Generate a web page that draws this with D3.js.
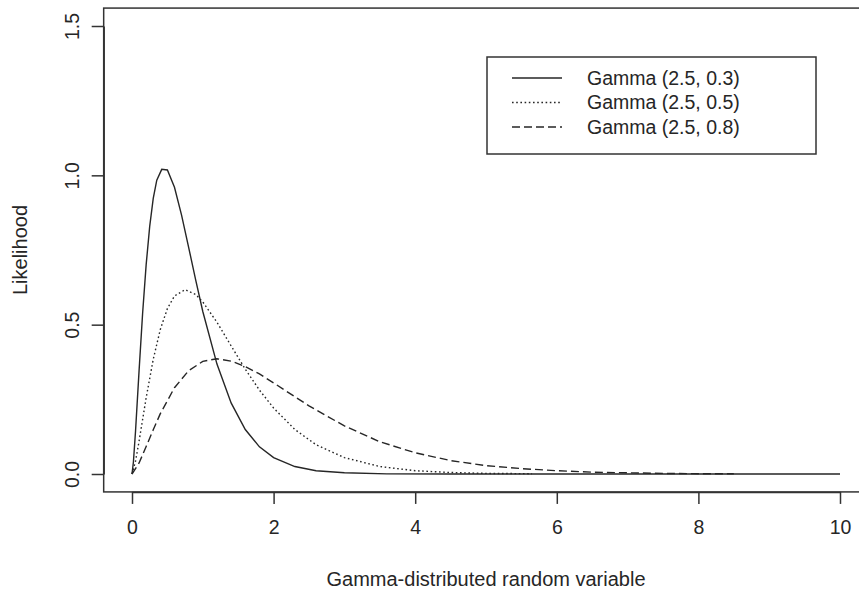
<!DOCTYPE html>
<html>
<head>
<meta charset="utf-8">
<script src="https://cdn.jsdelivr.net/npm/d3@7"></script>
<style>
  body { margin: 0; background: #fff; }
  text { font-family: "Liberation Sans", Arial, sans-serif; fill: #262626; }
</style>
</head>
<body>
<script>
// values
const xTicks = [0, 2, 4, 6, 8, 10];
const yTicks = [0, 0.5, 1, 1.5];
const seriesNames = ["Gamma (2.5, 0.3)", "Gamma (2.5, 0.5)", "Gamma (2.5, 0.8)"];

const xShape03 = [0, 0.02, 0.05, 0.1, 0.15, 0.2, 0.25, 0.3, 0.35, 0.42, 0.5, 0.6, 0.7, 0.8, 0.9, 1.0, 1.2, 1.4, 1.6, 1.8, 2.0, 2.3, 2.6, 3.0, 3.6, 4.5, 6, 8, 10];
const yShape03 = [0, 0.04, 0.144, 0.346, 0.538, 0.701, 0.829, 0.923, 0.984, 1.02, 1.018, 0.96, 0.867, 0.759, 0.649, 0.544, 0.368, 0.238, 0.149, 0.091, 0.055, 0.025, 0.011, 0.004, 0.0004, 0, 0, 0, 0];

const xShape05 = [0, 0.05, 0.1, 0.2, 0.3, 0.4, 0.5, 0.6, 0.75, 0.9, 1.0, 1.2, 1.4, 1.6, 1.8, 2.0, 2.3, 2.6, 3.0, 3.5, 4.0, 4.5, 5.0, 5.65];
const yShape05 = [0, 0.043, 0.11, 0.255, 0.384, 0.484, 0.554, 0.596, 0.617, 0.601, 0.576, 0.508, 0.429, 0.351, 0.281, 0.221, 0.149, 0.098, 0.055, 0.025, 0.011, 0.005, 0.002, 0.001];

const xShape08 = [0, 0.1, 0.2, 0.3, 0.4, 0.6, 0.8, 1.0, 1.2, 1.4, 1.6, 1.8, 2.0, 2.5, 3.0, 3.5, 4.0, 4.5, 5.0, 5.5, 6.0, 6.5, 7.0, 7.5, 8.0, 8.5];
const yShape08 = [0, 0.037, 0.092, 0.148, 0.202, 0.289, 0.346, 0.377, 0.386, 0.378, 0.36, 0.335, 0.305, 0.228, 0.161, 0.108, 0.071, 0.045, 0.028, 0.018, 0.011, 0.006, 0.004, 0.002, 0.001, 0.001];

const w = 859;
const h = 593;
const dashes = ["none", "1.6,2.6", "8,4"];

const series = [
  xShape03.map((x, i) => [x, yShape03[i]]),
  xShape05.map((x, i) => [x, yShape05[i]]),
  xShape08.map((x, i) => [x, yShape08[i]])
];

const xScale = d3.scaleLinear().domain([0, 10]).range([132, 840]);
const yScale = d3.scaleLinear().domain([0, 1.5]).range([474, 26]);

const svg = d3.select("body")
  .append("svg")
    .attr("width", w)
    .attr("height", h);

// plot box, R style: 4% beyond the data range
const x0 = xScale(-0.4), x1 = xScale(10.4);
const y0 = yScale(-0.06), y1 = yScale(1.56);
svg.append("rect")
  .attr("x", x0)
  .attr("y", y1)
  .attr("width", x1 - x0)
  .attr("height", y0 - y1)
  .style("fill", "none")
  .style("stroke", "#333")
  .style("stroke-width", 1.5);

const xAxis = d3.axisBottom(xScale).tickValues(xTicks).tickSize(12).tickSizeOuter(0).tickFormat(d3.format("d"));
const yAxis = d3.axisLeft(yScale).tickValues(yTicks).tickSize(12).tickSizeOuter(0).tickFormat(d3.format(".1f"));

const gx = svg.append("g")
  .attr("transform", "translate(0," + y0 + ")")
  .call(xAxis);
gx.selectAll("text")
  .attr("y", 35)
  .attr("dy", "0.35em")
  .style("font-size", "19.5px");

const gy = svg.append("g")
  .attr("transform", "translate(" + x0 + ",0)")
  .call(yAxis);
gy.selectAll("text")
  .attr("x", 0)
  .attr("y", -32)
  .attr("dy", "0.35em")
  .attr("transform", "rotate(-90)")
  .style("text-anchor", "middle")
  .style("font-size", "19.5px");

svg.selectAll(".domain, .tick line")
  .style("stroke", "#333")
  .style("stroke-width", 1.5);

svg.append("text")
  .attr("x", (x0 + x1) / 2)
  .attr("y", 579)
  .attr("dy", "0.35em")
  .style("text-anchor", "middle")
  .style("font-size", "20px")
  .text("Gamma-distributed random variable");

svg.append("text")
  .attr("transform", "rotate(-90)")
  .attr("x", -(y0 + y1) / 2)
  .attr("y", 20)
  .attr("dy", "0.35em")
  .style("text-anchor", "middle")
  .style("font-size", "20px")
  .text("Likelihood");

const line = d3.line()
  .x(d => xScale(d[0]))
  .y(d => yScale(d[1]));

svg.selectAll(".curve")
  .data(series)
  .enter()
  .append("path")
    .attr("class", "curve")
    .attr("d", line)
    .style("fill", "none")
    .style("stroke", "#262626")
    .style("stroke-width", 1.4)
    .style("stroke-dasharray", (d, i) => dashes[i]);

// legend
const legend = svg.append("g");
legend.append("rect")
  .attr("x", 487)
  .attr("y", 57)
  .attr("width", 329)
  .attr("height", 97)
  .style("fill", "#fff")
  .style("stroke", "#333")
  .style("stroke-width", 1.5);

const rows = legend.selectAll(".row")
  .data(seriesNames)
  .enter()
  .append("g")
    .attr("class", "row")
    .attr("transform", (d, i) => "translate(0," + (78 + i * 24.5) + ")");

rows.append("line")
  .attr("x1", 512)
  .attr("x2", 562)
  .style("stroke", "#262626")
  .style("stroke-width", 1.4)
  .style("stroke-dasharray", (d, i) => dashes[i]);

rows.append("text")
  .attr("x", 587)
  .attr("dy", "0.35em")
  .style("font-size", "19.5px")
  .text(d => d);
</script>
</body>
</html>
